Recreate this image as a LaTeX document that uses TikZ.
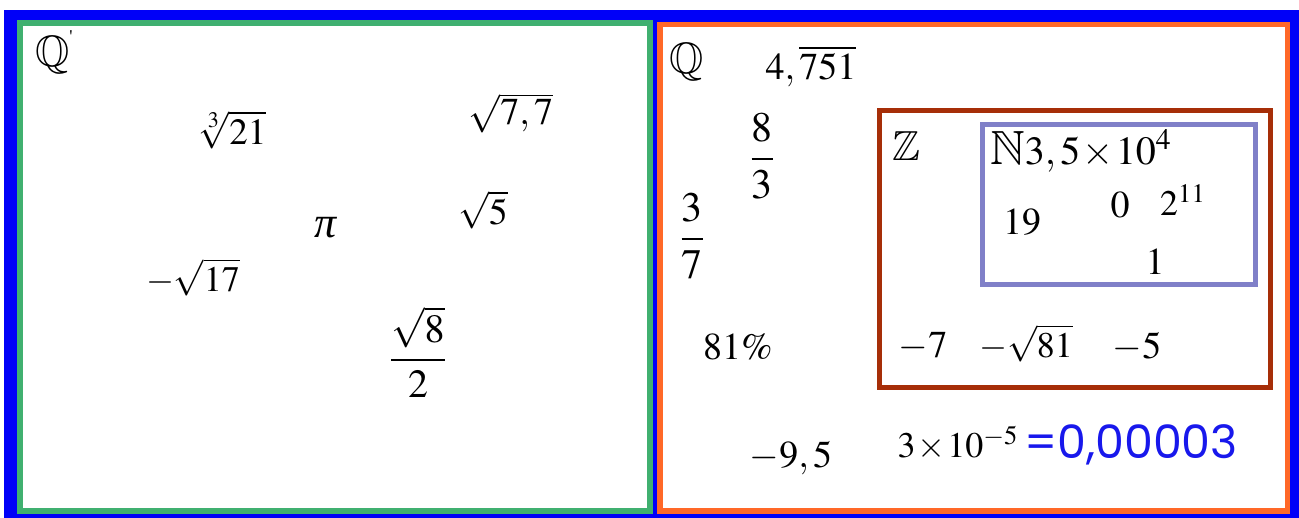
\documentclass[tikz,border=0pt]{standalone}
\usepackage{amsmath}
\usepackage{amssymb}
\usepackage{mathptmx}
\usepackage[no-math]{fontspec}
\setmainfont{Liberation Serif}
\newfontfamily\handfont{Poppins}
\definecolor{frameblue}{RGB}{0,0,248}
\definecolor{irrgreen}{RGB}{64,176,112}
\definecolor{ratorange}{RGB}{255,104,40}
\definecolor{intbrown}{RGB}{166,46,8}
\definecolor{natlav}{RGB}{128,128,200}
\definecolor{inkblue}{RGB}{24,24,236}
\newcommand{\tms}{\mkern1mu{\times}\mkern1mu}
\tikzset{
  setbox/.style={line width=#1, fill=white},
  num/.style={inner sep=0pt, font=\fontsize{20}{24}\selectfont},
  numsize/.style={font=\fontsize{#1}{#1}\selectfont},
}
\begin{document}
\begin{tikzpicture}[x=0.5pt,y=-0.5pt]
\useasboundingbox (0,0) rectangle (1299,518);
% outer frame (all real numbers)
\fill[frameblue] (4,10) rectangle (1299,518);
% irrational numbers
\draw[setbox=3pt, draw=irrgreen] (20,23.5) rectangle (649.5,511);
% rational numbers
\draw[setbox=2.75pt, draw=ratorange] (660,24.5) rectangle (1287.5,511);
% integers
\draw[line width=2.5pt, draw=intbrown] (879.5,110.5) rectangle (1270.5,387);
% naturals
\draw[line width=2.5pt, draw=natlav] (982,124.5) rectangle (1255.5,284.5);

% irrational side
\node[num, numsize=22] (qp) at (54,52) {$\mathbb{Q}$\raisebox{0.55em}{\fontsize{9}{9}\selectfont\textquotesingle}};
\node[num, numsize=18.5] (c21) at (232,130) {$\sqrt[3]{21}$};
\node[num, numsize=19] (s77) at (511,113) {$\sqrt{7,7}$};
\node[num, numsize=22] (pi) at (326,228) {\textit{π}};
\node[num, numsize=18.5] (s5) at (483,210) {$\sqrt{5}$};
\node[num, numsize=18] (s17) at (193,277) {$-\sqrt{17}$};
\node[num, numsize=20] (f82) at (418,352) {$\displaystyle\frac{\sqrt{8}}{2}$};

% rational side
\node[num, numsize=22] (q) at (687,62) {$\mathbb{Q}$};
\node[num, numsize=19] (rep) at (811,66) {$4,\overline{751}$};
\node[num, numsize=21] (f83) at (762,156) {$\displaystyle\frac{8}{3}$};
\node[num, numsize=21] (f37) at (692,236) {$\displaystyle\frac{3}{7}$};
\node[num, numsize=19] (pct) at (738,347) {$81\%$};
\node[num, numsize=19] (m95) at (791,458) {$-9,5$};
\node[num, numsize=18] (sci) at (958,443) {$3\tms10^{-5}$};
\node[inner sep=0pt, font=\handfont\fontsize{23}{23}\selectfont, text=inkblue] (hand) at (1131,445) {=0,00003};

% integers
\node[num, numsize=21] (z) at (906,146) {$\mathbb{Z}$};
\node[num, numsize=19] (m7) at (923,346) {$-7$};
\node[num, numsize=18] (s81) at (1026,343) {$-\sqrt{81}$};
\node[num, numsize=19] (m5) at (1137,347) {$-5$};

% naturals
\node[num, numsize=20] (n35) at (1081,151) {{\fontsize{24}{24}\selectfont$\mathbb{N}$}$3,5\tms10^{4}$};
\node[num, numsize=19] (n19) at (1022,222) {$19$};
\node[num, numsize=19] (n0) at (1120,205) {$0$};
\node[num, numsize=18] (n211) at (1183,200) {$2^{11}$};
\node[num, numsize=19] (n1) at (1155,262) {$1$};
\end{tikzpicture}
\end{document}
